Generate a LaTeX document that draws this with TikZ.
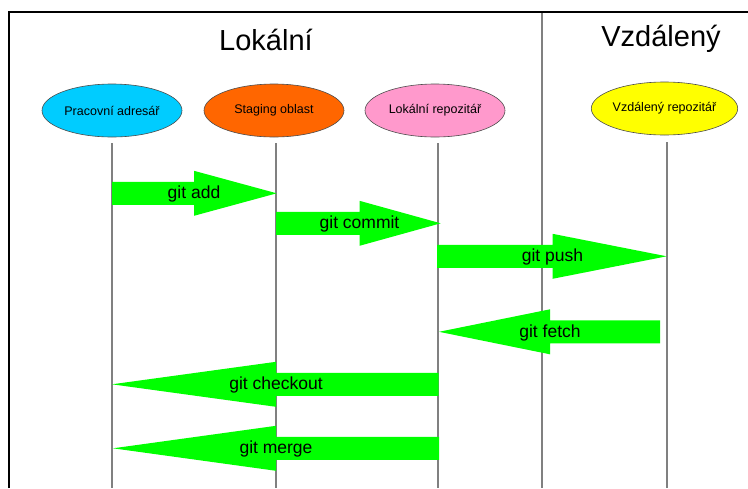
\documentclass[tikz,border=0pt]{standalone}
\usepackage{fontspec}
\setmainfont{Liberation Sans}
\usetikzlibrary{shapes.geometric}

\definecolor{wdcol}{HTML}{00CCFF}
\definecolor{stcol}{HTML}{FF6600}
\definecolor{lrcol}{HTML}{FF99CC}
\definecolor{rrcol}{HTML}{FFFF00}
\definecolor{flow}{HTML}{00FF00}
\definecolor{lifegray}{HTML}{808080}

\tikzset{
  store/.style={ellipse, draw=black!70, line width=0.6pt, minimum width=140pt,
    minimum height=53pt, inner sep=0pt, font=\fontsize{12.5}{15}\selectfont},
  title/.style={anchor=base, font=\fontsize{29}{34}\selectfont},
  lifeline/.style={draw=lifegray, line width=1.3pt},
  frame/.style={draw=black, line width=1.7pt},
  divider/.style={draw=lifegray, line width=2pt},
  flowfill/.style={fill=flow},
  flowlabel/.style={anchor=base, inner sep=0pt, font=\fontsize{17.5}{20}\selectfont},
}

% block arrow: tail x, head-base x, tip x, centre y, label
\newcommand{\blockarrow}[5]{%
  \fill[flowfill] (#1,#4-11.5) -- (#2,#4-11.5) -- (#2,#4-22.5) -- (#3,#4)
    -- (#2,#4+22.5) -- (#2,#4+11.5) -- (#1,#4+11.5) -- cycle;
  \node[flowlabel] at (#2,#4+5.5) {#5};%
}

\begin{document}
\begin{tikzpicture}[x=1pt, y=-1pt]
  \useasboundingbox (0,0) rectangle (748,488);

  % frame and local/remote divider
  \coordinate (fTL) at (8.8,11.7);
  \coordinate (fTR) at (748,11.7);
  \coordinate (fBL) at (8.8,488);
  \coordinate (dTop) at (542,11.7);
  \coordinate (dBot) at (542,488);
  \draw[divider] (dTop) -- (dBot);
  \draw[frame] (fBL) -- (fTL) -- (fTR);

  % section titles
  \node[title] (tLocal) at (266,50) {Lokální};
  \node[title] (tRemote) at (661,46.7) {Vzdálený};

  % storage areas
  \node[store, fill=wdcol] (wd) at (112,110.5) {Pracovní adresář};
  \node[store, fill=stcol] (st) at (274,110.5) {Staging oblast};
  \node[store, fill=lrcol] (lr) at (435,110.5) {Lokální repozitář};
  \node[store, fill=rrcol] (rr) at (664.5,108.5) {Vzdálený repozitář};

  % lifelines
  \coordinate (wdTop) at (112,143);   \coordinate (wdBot) at (112,488);
  \coordinate (stTop) at (276,143);   \coordinate (stBot) at (276,488);
  \coordinate (lrTop) at (438,143);   \coordinate (lrBot) at (438,488);
  \coordinate (rrTop) at (667,142);   \coordinate (rrBot) at (667,488);
  \draw[lifeline] (wdTop) -- (wdBot);
  \draw[lifeline] (stTop) -- (stBot);
  \draw[lifeline] (lrTop) -- (lrBot);
  \draw[lifeline] (rrTop) -- (rrBot);

  % commands
  \blockarrow{112}{194}{276.7}{193.3}{git add}
  \blockarrow{276}{359.5}{440.7}{223.3}{git commit}
  \blockarrow{437}{552.5}{666.7}{256.3}{git push}
  \blockarrow{660}{550}{439}{331.8}{git fetch}
  \blockarrow{438.5}{276}{112}{384.3}{git checkout}
  \blockarrow{439}{276}{113}{448.3}{git merge}
\end{tikzpicture}
\end{document}
